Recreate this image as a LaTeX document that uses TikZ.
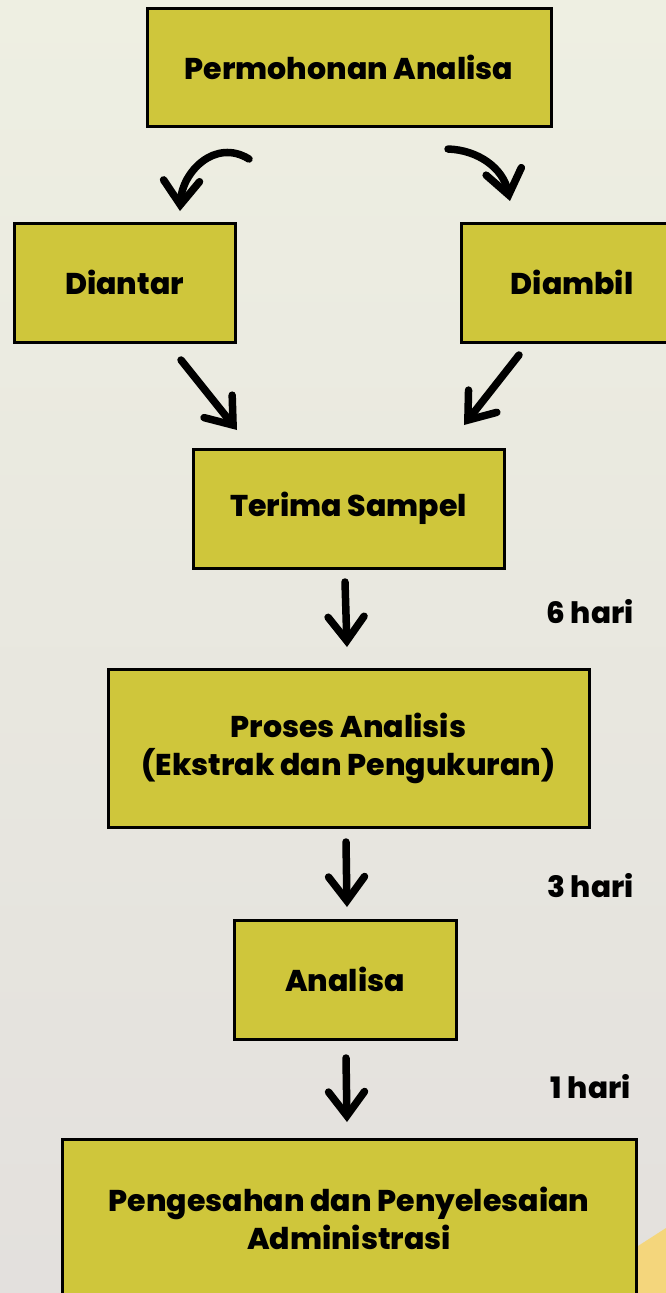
\documentclass[tikz,border=0pt]{standalone}
\usepackage{fontspec}
\setmainfont{Poppins}[BoldFont={Poppins ExtraBold}]
\usetikzlibrary{arrows.meta}
\definecolor{boxfill}{HTML}{CFC63B}
\definecolor{bgtop}{HTML}{EEEFE2}
\definecolor{bgbot}{HTML}{E3E0DD}
\definecolor{cornery}{HTML}{F4D67C}
\tikzset{
  boxfont/.style={font=\bfseries\fontsize{30}{38}\selectfont},
  stepbox/.style={draw=black, line width=3pt, fill=boxfill, boxfont, align=center, inner sep=0pt},
  lbl/.style={font=\bfseries\fontsize{29.5}{34}\selectfont, anchor=east},
  harrow/.style={line width=7.5pt, line cap=round, -{Straight Barb[length=24pt,width=36pt,line width=7.5pt,line cap=round]}},
}
\begin{document}
\begin{tikzpicture}[x=1pt,y=-1pt]
\useasboundingbox (0,0) rectangle (666,1293);
\shade[top color=bgtop, bottom color=bgbot] (0,0) rectangle (666,1293);
\fill[cornery] (638,1246) -- (666,1228) -- (666,1293) -- (638,1293) -- cycle;
% boxes
\node[stepbox, minimum width=404pt, minimum height=118pt] (perm) at (349,67) {Permohonan Analisa};
\node[stepbox, minimum width=221pt, minimum height=119pt] (diantar) at (124.5,282.5) {Diantar};
\draw[line width=3pt, fill=boxfill] (690,223) -- (461,223) -- (461,342) -- (690,342);
\node[boxfont] (diambil) at (572,282.5) {Diambil};
\node[stepbox, minimum width=311pt, minimum height=119pt] (terima) at (348.5,508.5) {Terima Sampel};
\node[stepbox, minimum width=481pt, minimum height=158pt] (proses) at (348.5,748) {Proses Analisis\\(Ekstrak dan Pengukuran)};
\node[stepbox, minimum width=222pt, minimum height=119pt] (analisa) at (345,979.5) {Analisa};
\draw[line width=3pt, fill=boxfill] (62,1310) -- (62,1139) -- (636,1139) -- (636,1310);
\node[boxfont, align=center] (peng) at (349,1218) {Pengesahan dan Penyelesaian\\Administrasi};
% labels
\node[lbl] (l6) at (637,612) {6 hari};
\node[lbl] (l3) at (637,886) {3 hari};
\node[lbl] (l1) at (634,1087) {1 hari};
% arrow end points
\coordinate (a1s) at (249,159);
\coordinate (a1e) at (180,211);
\coordinate (a2s) at (448,149);
\coordinate (a2e) at (510,201);
\coordinate (a3s) at (181,360);
\coordinate (a3e) at (237,430);
\coordinate (a4s) at (519,355);
\coordinate (a4e) at (464,425);
\coordinate (a5s) at (345,582);
\coordinate (a5e) at (347,647);
\coordinate (a6s) at (346,842);
\coordinate (a6e) at (347,907);
\coordinate (a7s) at (346,1058);
\coordinate (a7e) at (347,1122);
\draw[harrow] (a1s) .. controls (215,138) and (182,172) .. (a1e);
\draw[harrow] (a2s) .. controls (478,150) and (503,168) .. (a2e);
\draw[harrow] (a3s) -- (a3e);
\draw[harrow] (a4s) -- (a4e);
\draw[harrow] (a5s) -- (a5e);
\draw[harrow] (a6s) -- (a6e);
\draw[harrow] (a7s) -- (a7e);
\end{tikzpicture}
\end{document}
